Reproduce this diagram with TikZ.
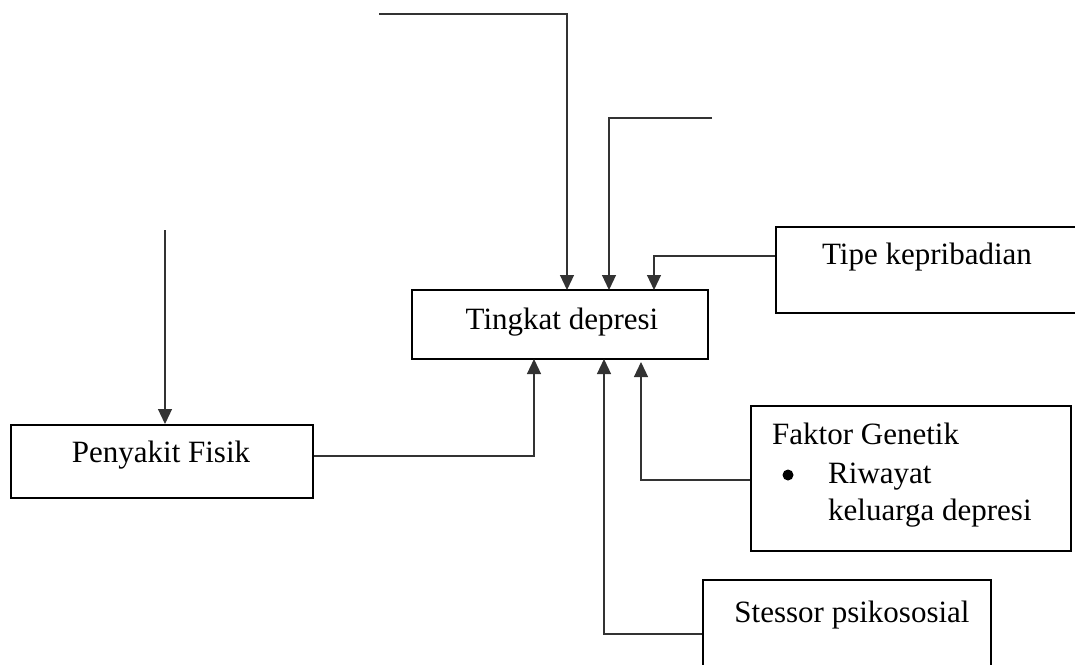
\documentclass[tikz,border=0pt]{standalone}
\usepackage{fontspec}
\setmainfont{Liberation Serif}
\usetikzlibrary{arrows.meta}
\begin{document}
\begin{tikzpicture}[x=1pt,y=-1pt,
  box/.style={draw=black,line width=2.3pt,rectangle,inner sep=0pt},
  lbl/.style={inner sep=0pt,font=\fontsize{31}{37}\selectfont},
  conn/.style={draw=black!80,line width=1.2pt},
  arr/.style={conn,-{Triangle[length=15pt,width=14pt]}}]
\useasboundingbox (0,0) rectangle (1075,664);
% boxes
\node[box,minimum width=296pt,minimum height=69pt] (T) at (560,324.5) {};
\node[lbl] (Tt) at (562,322) {Tingkat depresi};
\node[box,minimum width=310pt,minimum height=86pt,anchor=north west] (K) at (775,226) {};
\node[lbl] (Kt) at (927,257) {Tipe kepribadian};
\node[box,minimum width=320pt,minimum height=145pt,anchor=north west] (G) at (750,405) {};
\node[lbl,anchor=base west] (G1) at (772,444) {Faktor Genetik};
\node[lbl,anchor=base west] (G2) at (828,483) {Riwayat};
\node[lbl,anchor=base west] (G3) at (828,520) {keluarga depresi};
\fill (788,475) circle (5.5pt);
\node[box,minimum width=288pt,minimum height=110pt,anchor=north west] (S) at (702,579) {};
\node[lbl] (St) at (852,615) {Stessor psikososial};
\node[box,minimum width=302pt,minimum height=73pt,anchor=north west] (P) at (10,424) {};
\node[lbl] (Pt) at (161,455) {Penyakit Fisik};
% free ends
\coordinate (a0) at (379,14);
\coordinate (b0) at (712,118);
\coordinate (c0) at (165,230);
% connectors
\draw[arr] (a0) -- (567,14) -- (567,290);
\draw[arr] (b0) -- (609,118) -- (609,290);
\draw[arr] (K.west |- 0,256) -- (654,256) -- (654,290);
\draw[arr] (c0) -- (P.north -| c0);
\draw[arr] (P.east |- 0,456) -- (534,456) -- (534,359);
\draw[arr] (G.west |- 0,480) -- (641,480) -- (641,362);
\draw[arr] (S.west |- 0,634) -- (604,634) -- (604,359);
\end{tikzpicture}
\end{document}
